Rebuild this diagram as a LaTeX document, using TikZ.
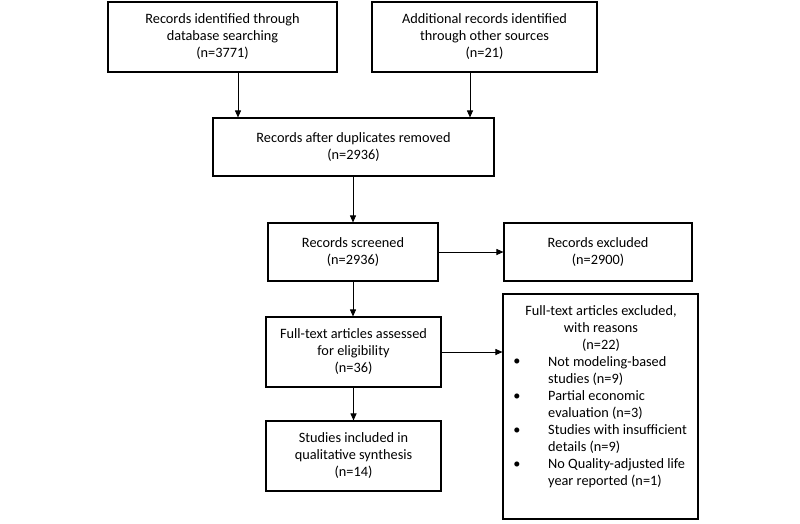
\documentclass[tikz,border=0pt]{standalone}
\usepackage{fontspec}
\setmainfont{Carlito}
\usetikzlibrary{arrows.meta}
\begin{document}
\begin{tikzpicture}[x=1pt,y=-1pt,
  box/.style={draw, line width=1.1pt, inner sep=0pt, align=center, font=\fontsize{14.3}{17}\selectfont},
  conn/.style={line width=0.9pt, -{Triangle[length=7pt,width=6pt]}},
  txt/.style={inner sep=0pt, font=\fontsize{14.3}{17}\selectfont}]
\useasboundingbox (0,0) rectangle (800,523);
\node[box, minimum width=229pt, minimum height=70pt] (b1) at (222.5,37) {Records identified through\\database searching\\(n=3771)};
\node[box, minimum width=225pt, minimum height=70pt] (b2) at (484.5,37) {Additional records identified\\through other sources\\(n=21)};
\node[box, minimum width=281pt, minimum height=58pt] (b3) at (353.5,147) {Records after duplicates removed\\(n=2936)};
\node[box, minimum width=170pt, minimum height=58pt] (b4) at (353,252) {Records screened\\(n=2936)};
\node[box, minimum width=188pt, minimum height=58pt] (b5) at (598,252) {Records excluded\\(n=2900)};
\node[box, minimum width=175pt, minimum height=70pt] (b6) at (353.5,352) {Full-text articles assessed\\for eligibility\\(n=36)};
\node[box, minimum width=175pt, minimum height=70pt] (b8) at (353.5,456) {Studies included in\\qualitative synthesis\\(n=14)};
\node[box, minimum width=195pt, minimum height=225pt] (b7) at (600.5,406.5) {};
\node[txt, align=center] (t7) at (601,329) {Full-text articles excluded,\\with reasons\\(n=22)};
\node[txt] (k1) at (517,362) {•};
\node[txt] (k2) at (517,397) {•};
\node[txt] (k3) at (517,431) {•};
\node[txt] (k4) at (517,465) {•};
\node[txt, anchor=west, align=left] (i1) at (548,371) {Not modeling-based\\studies (n=9)};
\node[txt, anchor=west, align=left] (i2) at (548,405) {Partial economic\\evaluation (n=3)};
\node[txt, anchor=west, align=left] (i3) at (548,439.5) {Studies with insufficient\\details (n=9)};
\node[txt, anchor=west, align=left] (i4) at (548,473.5) {No Quality-adjusted life\\year reported (n=1)};
\draw[conn] ([xshift=15.5pt]b1.south) -- ([xshift=15.5pt]b1.south |- b3.north);
\draw[conn] ([xshift=-14.5pt]b2.south) -- ([xshift=-14.5pt]b2.south |- b3.north);
\draw[conn] (b4.north |- b3.south) -- (b4.north);
\draw[conn] (b4.east) -- (b5.west);
\draw[conn] (b4.south) -- (b4.south |- b6.north);
\draw[conn] (b6.east) -- (b6.east -| b7.west);
\draw[conn] (b6.south) -- (b8.north);
\end{tikzpicture}
\end{document}
